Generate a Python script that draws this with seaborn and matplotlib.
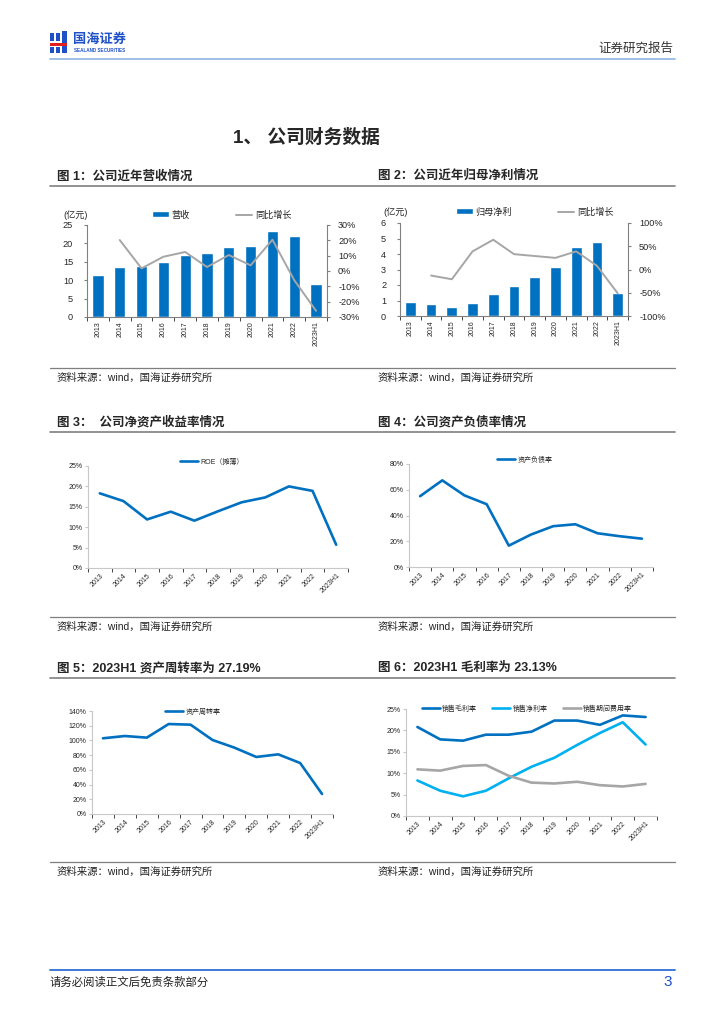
import numpy as np
import pandas as pd
import matplotlib
matplotlib.use("Agg")
import matplotlib.pyplot as plt
from matplotlib.patches import Rectangle
from matplotlib.lines import Line2D
import seaborn as sns

# data
years = ['2013', '2014', '2015', '2016', '2017', '2018', '2019', '2020', '2021', '2022', '2023H1']
revenue = [11.4, 13.6, 13.9, 15.0, 16.9, 17.3, 19.0, 19.4, 23.4, 21.9, 9.0]
revenue_yoy = [20.2, 1.7, 9.3, 12.4, 2.6, 10.4, 3.7, 20.4, -6.0, -26.0]  # 2014 ~ 2023H1
net_profit = [0.90, 0.75, 0.60, 0.84, 1.42, 1.94, 2.54, 3.14, 4.43, 4.75, 1.48]
profit_yoy = [-13, -21, 39, 64, 33, 29, 25, 39, 8, -51]  # 2014 ~ 2023H1
roe = [18.3, 16.4, 11.9, 13.8, 11.6, 13.9, 16.1, 17.3, 20.0, 18.9, 5.7]
debt_ratio = [55.0, 67.3, 55.6, 48.8, 16.6, 25.2, 31.7, 33.2, 26.2, 23.9, 22.0]
turnover = [102.9, 106.0, 103.8, 122.3, 121.4, 100.6, 90.2, 77.5, 81.1, 69.3, 27.19]
gross_margin = [20.8, 17.9, 17.6, 19.0, 19.0, 19.7, 22.3, 22.3, 21.3, 23.5, 23.13]
net_margin = [8.3, 5.9, 4.6, 5.9, 8.8, 11.5, 13.6, 16.6, 19.4, 21.9, 16.7]
expense_ratio = [10.9, 10.6, 11.7, 11.9, 9.4, 7.8, 7.6, 8.0, 7.2, 6.9, 7.5]

BLUE = '#0070C0'
LIGHT_BLUE = '#00B0F0'
GRAY = '#A6A6A6'
DARK_SPINE = '#808080'
LIGHT_SPINE = '#C8C8C8'
SOURCE = '资料来源：wind，国海证券研究所'

sns.set_style('ticks')
plt.rcParams['font.family'] = ['Liberation Sans', 'Noto Sans CJK SC', 'DejaVu Sans']
plt.rcParams['axes.unicode_minus'] = False

W, H = 724, 1024
fig = plt.figure(figsize=(7.24, 10.24), dpi=100)


def box(l, t, r, b):
    return [l / W, 1 - b / H, (r - l) / W, (b - t) / H]


def px(x, y):
    return x / W, 1 - y / H


def hline(x0, x1, y, color, lw):
    fig.add_artist(Line2D([x0 / W, x1 / W], [1 - y / H, 1 - y / H], color=color, lw=lw))


def pct(vals):
    return [f'{v:.0f}%' for v in vals]


def cat_ticks(ax, rot, size):
    n = len(years)
    ax.set_xlim(-0.5, n - 0.5)
    ax.set_xticks(np.arange(n))
    if rot == 90:
        ax.set_xticklabels(years, rotation=90, fontsize=size, va='top', ha='center')
    else:
        ax.set_xticklabels(years, rotation=45, fontsize=size, ha='right', rotation_mode='anchor')
    ax.set_xticks(np.arange(-0.5, n, 1), minor=True)
    ax.tick_params(axis='x', which='major', length=0, pad=3)
    ax.tick_params(axis='x', which='minor', length=3, color=ax.spines['bottom'].get_edgecolor())
    ax.set_xlabel('')


# ---------- page header / footer ----------
# little logo mark
for (x, y, w, h, c) in [(50, 33, 4, 8, '#1E50C8'), (56, 33, 4, 8, '#1E50C8'), (62, 31, 5, 12, '#1E50C8'),
                        (50, 43, 17, 3, '#E02020'), (50, 47, 4, 6, '#1E50C8'), (56, 47, 4, 6, '#1E50C8'),
                        (62, 46, 5, 7, '#1E50C8')]:
    fig.add_artist(Rectangle(px(x, y + h), w / W, h / H, color=c, lw=0))
fig.text(*px(73, 40), '国海证券', fontsize=9.5, fontweight='bold', color='#1E50C8', va='center')
fig.text(*px(74, 50), 'SEALAND SECURITIES', fontsize=3.3, fontweight='bold', color='#1E50C8', va='center')
fig.text(*px(673, 49), '证券研究报告', fontsize=9, va='center', ha='right', color='#333333')
hline(50, 675, 59, '#8EB4E3', 1.2)

fig.text(*px(233, 138), '1、 公司财务数据', fontsize=13.5, fontweight='bold', va='center')

hline(50, 675, 970, '#2E6FD6', 1.3)
fig.text(*px(50, 982), '请务必阅读正文后免责条款部分', fontsize=8.2, va='center', color='#222222')
fig.text(*px(672, 982), '3', fontsize=11, va='center', ha='right', color='#1E50C8')

# figure titles, rules and sources
titles = [('图 1：公司近年营收情况', '图 2：公司近年归母净利情况', 176, 186, 368, 378),
          ('图 3：  公司净资产收益率情况', '图 4：公司资产负债率情况', 422, 432, 617, 627),
          ('图 5：2023H1 资产周转率为 27.19%', '图 6：2023H1 毛利率为 23.13%', 668, 678, 862, 872)]
for t_left, t_right, ty, ly, sy, st in titles:
    fig.text(*px(57, ty), t_left, fontsize=9, fontweight='bold', va='center')
    fig.text(*px(378, ty), t_right, fontsize=9, fontweight='bold', va='center')
    hline(50, 675, ly, '#7F7F7F', 1.2)
    hline(50, 675, sy, '#7F7F7F', 0.9)
    fig.text(*px(57, st), SOURCE, fontsize=7.5, va='center', color='#222222')
    fig.text(*px(378, st), SOURCE, fontsize=7.5, va='center', color='#222222')


# ---------- bar + yoy charts ----------
def bar_chart(rect, values, yoy, bar_label, ylim, ystep, y2lim, y2step, unit_xy, legend_xy):
    ax = fig.add_axes(box(*rect))
    df = pd.DataFrame({'year': years, 'value': values})
    sns.barplot(data=df, x='year', y='value', color=BLUE, saturation=1, width=0.52, ax=ax)
    ax2 = ax.twinx()
    pos = np.arange(1, len(years))
    sns.lineplot(x=pos, y=yoy, color=GRAY, lw=1.4, ax=ax2)
    cat_ticks(ax, 90, 5)
    ax.set_ylim(*ylim)
    ax.set_yticks(np.arange(ylim[0], ylim[1] + ystep / 2, ystep))
    ax.set_ylabel('')
    ax.tick_params(axis='y', labelsize=6.6, length=2, pad=8, color=DARK_SPINE)
    ax2.set_ylim(*y2lim)
    yt = np.arange(y2lim[0], y2lim[1] + y2step / 2, y2step)
    ax2.set_yticks(yt)
    ax2.set_yticklabels(pct(yt))
    ax2.tick_params(axis='y', labelsize=6.6, length=2, pad=6, color=DARK_SPINE)
    for a in (ax, ax2):
        for s in a.spines.values():
            s.set_color(DARK_SPINE)
            s.set_linewidth(0.8)
        a.spines['top'].set_visible(False)
    ax.spines['right'].set_visible(False)
    ax2.spines['left'].set_visible(False)
    ax2.spines['bottom'].set_visible(False)
    fig.text(*px(*unit_xy), '(亿元)', fontsize=6.6, va='center')
    handles = [ax.patches[0], ax2.lines[0]]
    ax2.legend(handles, [bar_label, '同比增长'], loc='center', bbox_to_anchor=px(*legend_xy),
               bbox_transform=fig.transFigure, ncol=2, frameon=False, fontsize=6.6,
               handlelength=1.8, handleheight=0.6, columnspacing=5.0, handletextpad=0.3)


bar_chart((87, 225, 327, 317), revenue, revenue_yoy, '营收', (0, 25), 5, (-30, 30), 10,
          (63, 215), (222, 215))
bar_chart((400, 223, 628, 316), net_profit, profit_yoy, '归母净利', (0, 6), 1, (-100, 100), 50,
          (383, 212), (535, 212))


# ---------- line charts ----------
def line_chart(rect, series, colors, ylim, ystep, legend_xy, colspace):
    ax = fig.add_axes(box(*rect))
    pos = np.arange(len(years))
    for (name, vals), c in zip(series, colors):
        sns.lineplot(x=pos, y=vals, color=c, lw=1.9, ax=ax, label=name)
    cat_ticks(ax, 45, 5)
    ax.set_ylim(*ylim)
    yt = np.arange(ylim[0], ylim[1] + ystep / 2, ystep)
    ax.set_yticks(yt)
    ax.set_yticklabels(pct(yt))
    ax.tick_params(axis='y', labelsize=5, length=2, pad=2, color=LIGHT_SPINE)
    ax.set_ylabel('')
    for s in ax.spines.values():
        s.set_color(LIGHT_SPINE)
        s.set_linewidth(0.8)
    ax.spines['top'].set_visible(False)
    ax.spines['right'].set_visible(False)
    ax.legend(loc='center', bbox_to_anchor=px(*legend_xy), bbox_transform=fig.transFigure,
              ncol=len(series), frameon=False, fontsize=5, handlelength=2.6,
              columnspacing=colspace, handletextpad=0.3)


line_chart((88, 466, 348, 568), [('ROE（摊薄）', roe)], [BLUE], (0, 25), 5, (212, 462), 2)
line_chart((409, 464, 653, 567), [('资产负债率', debt_ratio)], [BLUE], (0, 80), 20, (525, 460), 2)
line_chart((92, 711, 333, 814), [('资产周转率', turnover)], [BLUE], (0, 140), 20, (193, 712), 2)
line_chart((406, 709, 657, 816),
           [('销售毛利率', gross_margin), ('销售净利率', net_margin), ('销售期间费用率', expense_ratio)],
           [BLUE, LIGHT_BLUE, GRAY], (0, 25), 5, (527, 709), 2.2)

fig.savefig('out.png', dpi=100, facecolor='white')
